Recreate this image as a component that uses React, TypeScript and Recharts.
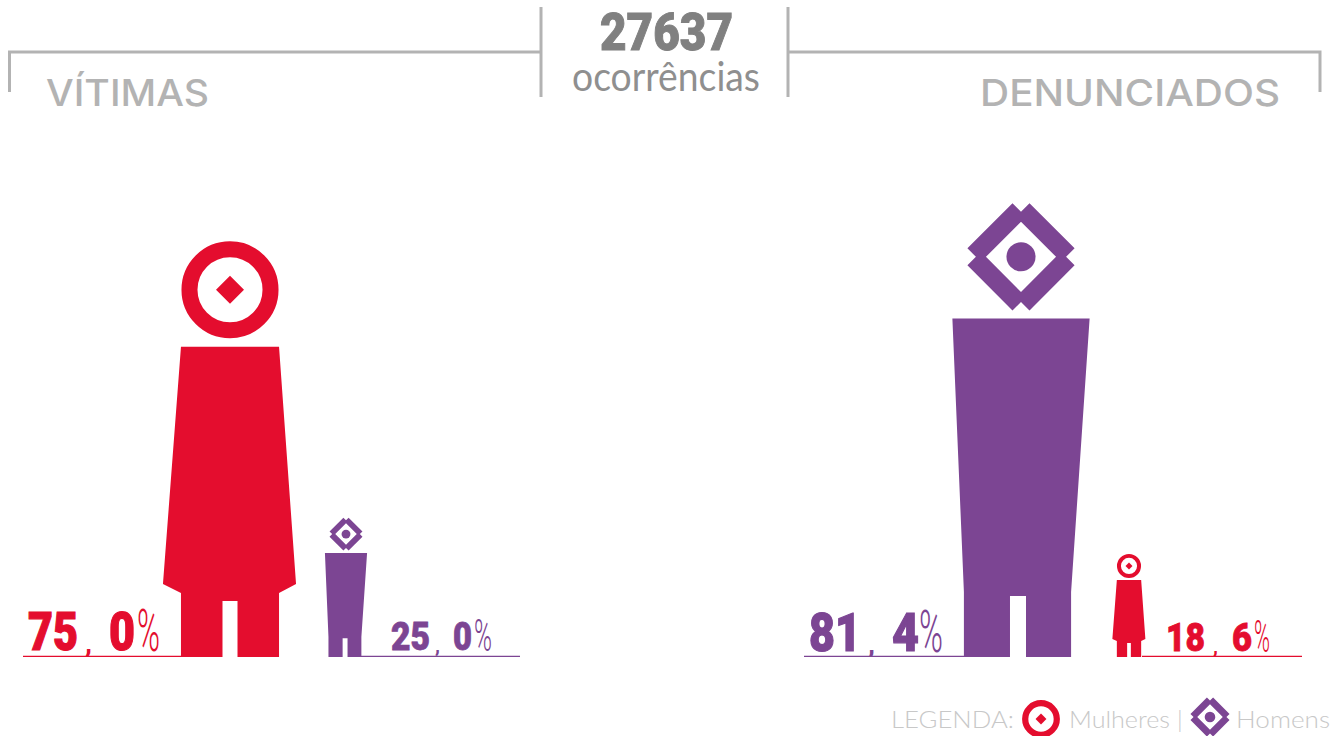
import { BarChart, Bar, XAxis, YAxis } from 'recharts';

const vitimasCategories = ['Mulheres', 'Homens'];
const vitimasValues = [75.0, 25.0];
const denunciadosCategories = ['Homens', 'Mulheres'];
const denunciadosValues = [81.4, 18.6];
const totalOcorrencias = '27637';

const RED = '#e40d2e';
const PURPLE = '#7c4593';
const GREY = '#b3b3b3';

// label and baseline placement per figure, in px from the figure's centre
const vitimasLayout = [
  { line: [-207, -49], parts: [-202, -145, -121, -93], widths: [50, 7, 26, 23], cap: 38, base: -7 },
  { line: [15, 174], parts: [45, 89, 107, 128], widths: [39, 5, 19, 18], cap: 28, base: -7 },
];
const denunciadosLayout = [
  { line: [-217, -56], parts: [-212, -153, -129, -102], widths: [52, 7, 27, 24], cap: 38, base: -6 },
  { line: [13, 173], parts: [37, 84, 103, 125], widths: [39, 5, 20, 16], cap: 28, base: -6 },
];

const WomanHead = ({ cx, cy, s }: any) => (
  <g transform={`translate(${cx},${cy}) scale(${s})`}>
    <circle r={40.5} fill="none" stroke={RED} strokeWidth={16} />
    <polygon points="0,-14 14,0 0,14 -14,0" fill={RED} />
  </g>
);

const ManHead = ({ cx, cy, s }: any) => (
  <g transform={`translate(${cx},${cy}) scale(${s})`}>
    <path
      fillRule="evenodd"
      fill={PURPLE}
      d="M-8.5,-53.5 L0,-45 L8.5,-53.5 L53.5,-8.5 L45,0 L53.5,8.5 L8.5,53.5 L0,45 L-8.5,53.5 L-53.5,8.5 L-45,0 L-53.5,-8.5 Z M0,-35 L-35,0 L0,35 L35,0 Z"
    />
    <circle r={14.5} fill={PURPLE} />
  </g>
);

const Woman = ({ cx, top, s }: any) => (
  <g>
    <WomanHead cx={cx} cy={top + 49 * s} s={s} />
    <g transform={`translate(${cx},${top}) scale(${s})`}>
      <path
        fill={RED}
        d="M-49,106 L49,106 L66,343 L49,352 L49,416 L7.5,416 L7.5,360 L-7.5,360 L-7.5,416 L-49,416 L-49,352 L-67,343 Z"
      />
    </g>
  </g>
);

const Man = ({ cx, top, s }: any) => (
  <g>
    <ManHead cx={cx} cy={top + 53.5 * s} s={s} />
    <g transform={`translate(${cx},${top}) scale(${s})`}>
      <path
        fill={PURPLE}
        d="M-68.5,115 L68.5,115 L50,388 L50,453 L5,453 L5,392 L-11,392 L-11,453 L-57,453 L-57,388 Z"
      />
    </g>
  </g>
);

const PercentLabel = ({ value, cx, baseY, layout, color }: any) => {
  const [whole, decimal] = value.toFixed(1).split('.');
  const { parts, widths, cap, base } = layout;
  const size = cap / 0.711;
  const y = baseY + base;
  const shared = { fontFamily: 'Roboto', fill: color, lengthAdjust: 'spacingAndGlyphs' as const };
  const heavy = { stroke: color, strokeWidth: cap > 30 ? 1.2 : 0.8 };
  return (
    <g>
      <text {...shared} {...heavy} x={cx + parts[0]} y={y} fontSize={size} fontWeight={900} textLength={widths[0]}>
        {whole}
      </text>
      <text {...shared} x={cx + parts[1]} y={y + 2} fontSize={size * 0.5} fontWeight={700} textLength={widths[1]}>
        ,
      </text>
      <text {...shared} {...heavy} x={cx + parts[2]} y={y} fontSize={size} fontWeight={900} textLength={widths[2]}>
        {decimal}
      </text>
      <text {...shared} x={cx + parts[3]} y={y + 1} fontSize={size * 1.12} fontWeight={300} textLength={widths[3]}>
        %
      </text>
    </g>
  );
};

const figureShape = (layouts: any[]) => (props: any) => {
  const { x, y, width, height, index, payload } = props;
  const cx = x + width / 2;
  const isWoman = payload.name === 'Mulheres';
  const color = isWoman ? RED : PURPLE;
  const layout = layouts[index];
  const baseY = y + height;
  const s = isWoman ? height / 416 : height / 451;
  return (
    <g>
      <line
        x1={cx + layout.line[0]}
        x2={cx + layout.line[1]}
        y1={baseY - 0.5}
        y2={baseY - 0.5}
        stroke={color}
        strokeWidth={1.6}
      />
      {isWoman ? <Woman cx={cx} top={y} s={s} /> : <Man cx={cx} top={baseY - 453 * s} s={s} />}
      <PercentLabel value={payload.value} cx={cx} baseY={baseY} layout={layout} color={color} />
    </g>
  );
};

const toRows = (names: string[], values: number[]) => names.map((name, i) => ({ name, value: values[i] }));

const FigureChart = ({ names, values, layouts, left, marginLeft, marginRight }: any) => (
  <div style={{ position: 'absolute', left, top: 101.5 }}>
    <BarChart
      width={666}
      height={555}
      data={toRows(names, values)}
      margin={{ top: 0, right: marginRight, bottom: 0, left: marginLeft }}
      barCategoryGap={0}
    >
      <XAxis dataKey="name" hide />
      <YAxis domain={[0, 100]} hide />
      <Bar dataKey="value" isAnimationActive={false} shape={figureShape(layouts)} />
    </BarChart>
  </div>
);

const Header = () => {
  const gotham = { fontFamily: 'Inter', fontWeight: 500, fill: GREY, lengthAdjust: 'spacingAndGlyphs' as const };
  return (
    <svg width={1332} height={736} style={{ position: 'absolute', left: 0, top: 0 }}>
      <path d="M9.5,92 L9.5,52 L541,52 M541,7 L541,97 M788,7 L788,97 M788,52 L1320,52 L1320,92" fill="none" stroke={GREY} strokeWidth={3} />
      <text {...gotham} x={46} y={106} fontSize={37} textLength={163}>VÍTIMAS</text>
      <text {...gotham} x={980} y={106} fontSize={37} textLength={300}>DENUNCIADOS</text>
      <text x={600} y={50} fontFamily="Roboto" fontWeight={900} fontSize={51} fill="#808080" stroke="#808080" strokeWidth={1} textLength={133} lengthAdjust="spacingAndGlyphs">
        {totalOcorrencias}
      </text>
      <text x={572} y={91} fontFamily="Lato" fontWeight={400} fontSize={41} fill="#8f8f8f" textLength={188} lengthAdjust="spacingAndGlyphs">
        ocorrências
      </text>

      <g fontFamily="Lato" fontWeight={300} fontSize={24} fill="#c8c8c8">
        <text x={891} y={728} textLength={123} lengthAdjust="spacingAndGlyphs">LEGENDA:</text>
        <text x={1069} y={728} textLength={101} lengthAdjust="spacingAndGlyphs">Mulheres</text>
        <text x={1177} y={728}>|</text>
        <text x={1236} y={728} textLength={94} lengthAdjust="spacingAndGlyphs">Homens</text>
      </g>
      <WomanHead cx={1041} cy={719} s={0.39} />
      <ManHead cx={1210} cy={717} s={0.365} />
    </svg>
  );
};

export default function App() {
  return (
    <div style={{ position: 'absolute', left: 0, top: 0, width: 1332, height: 736, background: '#fff', overflow: 'hidden' }}>
      <Header />
      <FigureChart
        names={vitimasCategories}
        values={vitimasValues}
        layouts={vitimasLayout}
        left={0}
        marginLeft={172}
        marginRight={262}
      />
      <FigureChart
        names={denunciadosCategories}
        values={denunciadosValues}
        layouts={denunciadosLayout}
        left={666}
        marginLeft={301}
        marginRight={149}
      />
    </div>
  );
}
